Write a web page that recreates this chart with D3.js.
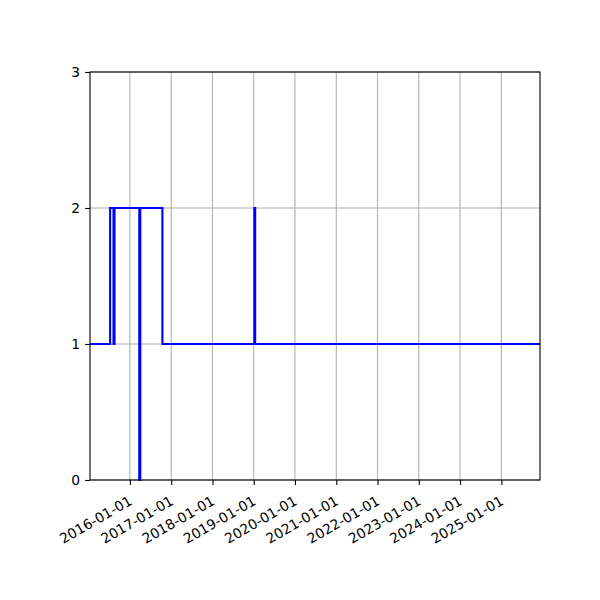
<!DOCTYPE html>
<html>
<head>
<meta charset="utf-8">
<script src="https://cdn.jsdelivr.net/npm/d3@7"></script>
<style>
  body { margin: 0; background: #fff; }
  text { font-family: "DejaVu Sans", sans-serif; }
</style>
</head>
<body>
<div id="chart"></div>
<script>
// step changes (post): each value holds until the next date
var dates = ["2015-01-13", "2015-07-10", "2015-08-09", "2015-08-18", "2016-03-24",
             "2016-04-02", "2016-10-15", "2019-01-07", "2019-01-14", "2025-12-09"];
var values = [1, 2, 1, 2, 0, 2, 1, 2, 1, 1];
var yTicks = [0, 1, 2, 3];
var xTickYears = [2016, 2017, 2018, 2019, 2020, 2021, 2022, 2023, 2024, 2025];

var width = 600,
    height = 600,
    margin = {top: 72, right: 60, bottom: 120, left: 90};

var parse = d3.utcParse("%Y-%m-%d");
var data = dates.map(function(d, i) { return {date: parse(d), value: values[i]}; });
var xTicks = xTickYears.map(function(y) { return new Date(Date.UTC(y, 0, 1)); });

var x = d3.scaleUtc()
    .domain(d3.extent(data, function(d) { return d.date; }))
    .range([margin.left, width - margin.right]);

var y = d3.scaleLinear()
    .domain([0, 3])
    .range([height - margin.bottom, margin.top]);

var svg = d3.select("#chart").append("svg")
    .attr("width", width)
    .attr("height", height);

// grid
svg.append("g").selectAll("line")
    .data(xTicks)
  .enter().append("line")
    .attr("x1", function(d) { return x(d); })
    .attr("x2", function(d) { return x(d); })
    .attr("y1", y(0))
    .attr("y2", y(3))
    .attr("stroke", "#b0b0b0")
    .attr("stroke-width", 1.1);

svg.append("g").selectAll("line")
    .data(yTicks)
  .enter().append("line")
    .attr("x1", x.range()[0])
    .attr("x2", x.range()[1])
    .attr("y1", function(d) { return y(d); })
    .attr("y2", function(d) { return y(d); })
    .attr("stroke", "#b0b0b0")
    .attr("stroke-width", 1.1);

// step line
var line = d3.line()
    .curve(d3.curveStepAfter)
    .x(function(d) { return x(d.date); })
    .y(function(d) { return y(d.value); });

svg.append("path")
    .datum(data)
    .attr("d", line)
    .attr("fill", "none")
    .attr("stroke", "#0000ff")
    .attr("stroke-width", 2.1);

// frame
svg.append("rect")
    .attr("x", x.range()[0])
    .attr("y", y(3))
    .attr("width", x.range()[1] - x.range()[0])
    .attr("height", y(0) - y(3))
    .attr("fill", "none")
    .attr("stroke", "#000")
    .attr("stroke-width", 1.1);

// axes
var xAxis = svg.append("g")
    .attr("transform", `translate(0,${y(0)})`)
    .call(d3.axisBottom(x).tickValues(xTicks).tickFormat(d3.utcFormat("%Y-%m-%d")).tickSize(4.9).tickPadding(4));
xAxis.select(".domain").remove();
xAxis.selectAll("line").attr("stroke-width", 1.1);
xAxis.selectAll("text")
    .attr("font-family", "DejaVu Sans")
    .attr("font-size", "13.9px")
    .attr("fill", "#000")
    .attr("text-anchor", "end")
    .attr("dy", "0.75em")
    .attr("transform", "rotate(-30)")
    .attr("x", -9.5)
    .attr("y", 11.5);

var yAxis = svg.append("g")
    .attr("transform", `translate(${x.range()[0]},0)`)
    .call(d3.axisLeft(y).tickValues(yTicks).tickFormat(d3.format("d")).tickSize(4.9).tickPadding(4.9));
yAxis.select(".domain").remove();
yAxis.selectAll("line").attr("stroke-width", 1.1);
yAxis.selectAll("text")
    .attr("font-family", "DejaVu Sans")
    .attr("font-size", "13.9px")
    .attr("fill", "#000");
</script>
</body>
</html>
